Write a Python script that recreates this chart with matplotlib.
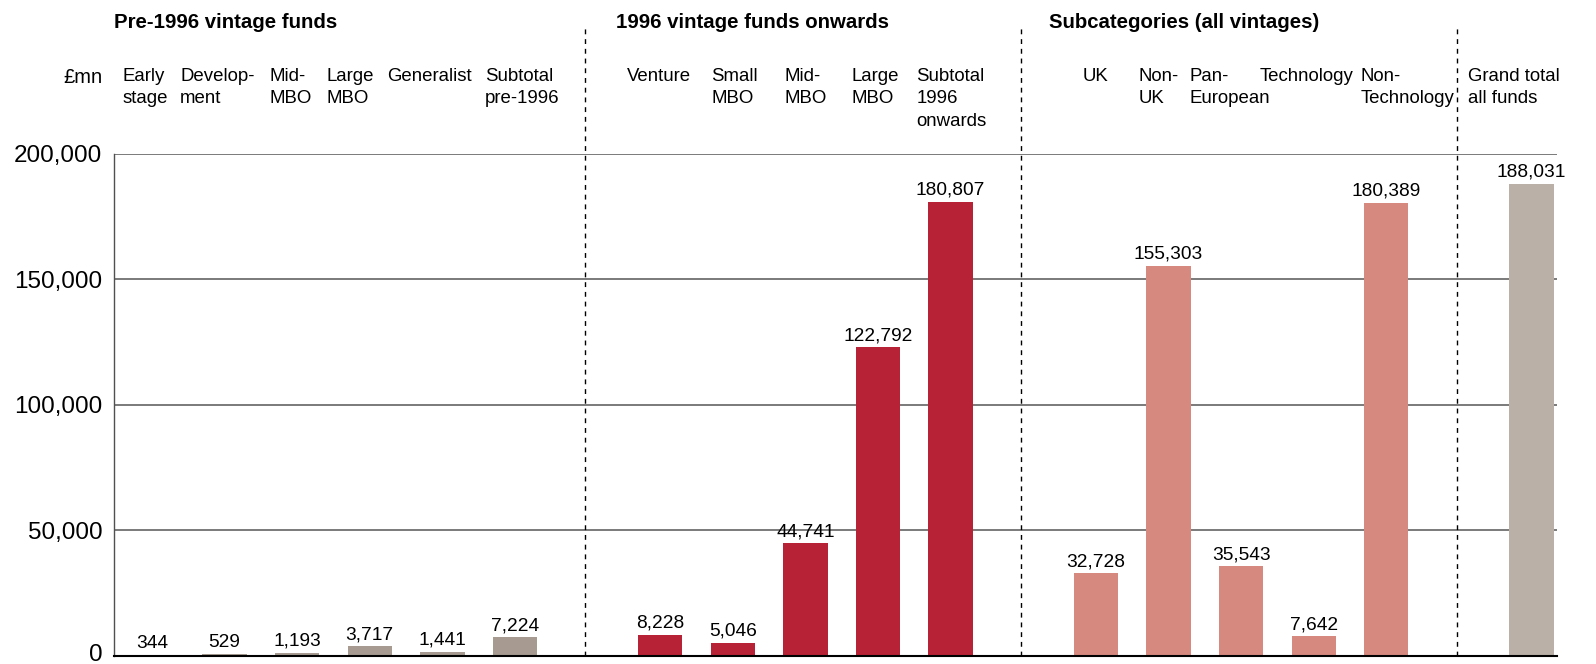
"""Funds raised by vintage group, with subcategories and grand total."""

import matplotlib.pyplot as plt
import matplotlib.transforms as mtransforms
import numpy as np
from matplotlib.ticker import FuncFormatter

plt.rcParams["font.family"] = ["Liberation Sans", "DejaVu Sans"]

group_titles = ["Pre-1996 vintage funds", "1996 vintage funds onwards",
                "Subcategories (all vintages)", None]

pre_labels = ["Early\nstage", "Develop-\nment", "Mid-\nMBO", "Large\nMBO",
              "Generalist", "Subtotal\npre-1996"]
pre_values = [344, 529, 1193, 3717, 1441, 7224]

post_labels = ["Venture", "Small\nMBO", "Mid-\nMBO", "Large\nMBO",
               "Subtotal\n1996\nonwards"]
post_values = [8228, 5046, 44741, 122792, 180807]

sub_labels = ["UK", "Non-\nUK", "Pan-\nEuropean", "Technology",
              "Non-\nTechnology"]
sub_values = [32728, 155303, 35543, 7642, 180389]

total_labels = ["Grand total\nall funds"]
total_values = [188031]

yticks = [0, 50000, 100000, 150000, 200000]

groups = [
    (pre_labels, pre_values, "#a79b91"),
    (post_labels, post_values, "#b82236"),
    (sub_labels, sub_values, "#d6897f"),
    (total_labels, total_values, "#bab0a8"),
]

# left edge of each column heading, relative to its bar slot
label_dx = [-0.40, -0.61, -0.38, -0.59, -0.76, -0.41,
            -0.46, -0.30, -0.29, -0.36, -0.47,
            -0.18, -0.41, -0.71, -0.75, -0.36,
            -0.87]
title_dx = [-0.52, -0.61, -0.65]
head_top = 1.171     # axes fraction of the first heading line
head_step = 0.0446   # axes fraction between heading lines

fig = plt.figure(figsize=(15.96, 6.64), dpi=100)
ax = fig.add_axes([0.0714, 0.0128, 0.9041, 0.7557])

trans = mtransforms.blended_transform_factory(ax.transData, ax.transAxes)

slot = 0
k = 0
dividers = []
for gi, (labels, values, color) in enumerate(groups):
    x = np.arange(slot, slot + len(values))
    ax.bar(x, values, width=0.61, color=color, zorder=3)
    for xi, v, lab in zip(x, values, labels):
        ax.annotate(f"{v:,}", (xi, v), xytext=(0, 5), textcoords="offset points",
                    ha="center", va="baseline", fontsize=13.8, zorder=4)
        # one text per line so wrapped headings keep tight boxes
        for li, line in enumerate(lab.split("\n")):
            ax.text(xi + label_dx[k], head_top - li * head_step, line,
                    transform=trans, ha="left", va="top", fontsize=13.4)
        k += 1
    if group_titles[gi]:
        ax.text(x[0] + title_dx[gi], 1.262, group_titles[gi], transform=trans,
                ha="left", va="center", fontsize=14.7, fontweight="bold")
    slot = x[-1] + 2
    if gi < len(groups) - 1:
        dividers.append(x[-1] + 1)

for d in dividers:
    ax.plot([d - 0.03, d - 0.03], [0, 1.2525], transform=trans, color="black",
            lw=1.0, ls=(0, (3.5, 3.5)), clip_on=False, zorder=2)

ax.text(-0.0076, head_top, "£mn", transform=ax.transAxes, ha="right", va="top",
        fontsize=14.5)

ax.set_xlim(-0.523, 19.35)
ax.set_ylim(0, 200000)
ax.set_yticks(yticks)
ax.yaxis.set_major_formatter(FuncFormatter(lambda v, _: f"{int(v):,}"))
ax.tick_params(axis="y", length=0, pad=8.5, labelsize=17.5)
ax.set_xticks([])
ax.yaxis.grid(True, color="#707070", lw=1.3, zorder=1)

# lift the "0" label so it sits clear of the lower edge
zero_label = ax.get_yticklabels()[0]
zero_label.set_transform(zero_label.get_transform()
                         + mtransforms.ScaledTranslation(0, 2.5 / 72, fig.dpi_scale_trans))

for side in ("top", "right"):
    ax.spines[side].set_visible(False)
ax.spines["left"].set_color("#505050")
ax.spines["left"].set_linewidth(1.0)
ax.spines["bottom"].set_color("black")
ax.spines["bottom"].set_linewidth(1.5)
ax.spines["bottom"].set_zorder(5)

fig.savefig("out.png", dpi=100)
